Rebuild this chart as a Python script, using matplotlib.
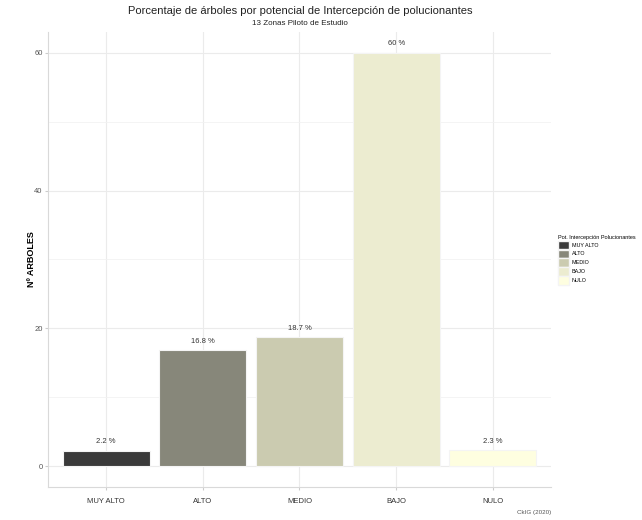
import numpy as np
import matplotlib.pyplot as plt
from matplotlib.patches import Patch

plt.rcParams['font.family'] = ['Liberation Sans', 'DejaVu Sans']

categorias = ['MUY ALTO', 'ALTO', 'MEDIO', 'BAJO', 'NULO']
porcentajes = [2.2, 16.8, 18.7, 60.0, 2.3]
etiquetas = ['2.2 %', '16.8 %', '18.7 %', '60 %', '2.3 %']
colores = ['#3a3a3a', '#87877a', '#cbcbb0', '#ececd0', '#fefee0']

fig = plt.figure(figsize=(6.42, 5.2), dpi=100)
ax = fig.add_axes([0.075, 0.064, 0.783, 0.874])

x = np.arange(1, len(categorias) + 1)
ax.bar(x, porcentajes, width=0.9, color=colores, edgecolor='#f4f4f4', linewidth=0.8, zorder=3)

for xi, v, t in zip(x, porcentajes, etiquetas):
    ax.annotate(t, (xi, v), xytext=(0, 4), textcoords='offset points',
                ha='center', va='bottom', fontsize=5.5, color='#333333', zorder=4)

ax.set_xlim(0.4, 5.6)
ax.set_ylim(-3, 63)
ax.set_xticks(x)
ax.set_xticklabels(categorias)
ax.set_yticks([0, 20, 40, 60])
ax.set_yticks([10, 30, 50], minor=True)

ax.grid(which='major', color='#ebebeb', linewidth=0.8, zorder=0)
ax.grid(which='minor', axis='y', color='#f2f2f2', linewidth=0.6, zorder=0)
ax.tick_params(axis='both', which='major', labelsize=5.5, length=2, color='#cccccc',
               labelcolor='#555555', pad=2)
ax.tick_params(axis='x', labelcolor='#333333', pad=6)
ax.tick_params(which='minor', length=0)

for s in ['top', 'right']:
    ax.spines[s].set_visible(False)
for s in ['left', 'bottom']:
    ax.spines[s].set_color('#d9d9d9')
    ax.spines[s].set_linewidth(0.8)

ax.set_ylabel('Nº ARBOLES', fontsize=6.5, fontweight='bold')
ax.yaxis.set_label_coords(-0.025, 0.5)

fig.text(0.467, 0.978, 'Porcentaje de árboles por potencial de Intercepción de polucionantes',
         ha='center', va='center', fontsize=8, color='#222222')
fig.text(0.467, 0.955, '13 Zonas Piloto de Estudio', ha='center', va='center',
         fontsize=5.8, color='#222222')
fig.text(0.858, 0.015, 'CkIG (2020)', ha='right', va='center', fontsize=4.5, color='#555555')

handles = [Patch(facecolor=c, edgecolor='#f4f4f4', label=cat) for c, cat in zip(colores, categorias)]
leg = fig.legend(handles=handles, title='Pot. Intercepción Polucionantes', loc='upper left',
                 bbox_to_anchor=(0.866, 0.552), frameon=False, fontsize=3.9,
                 title_fontsize=4, handlelength=2.0, handleheight=2.0,
                 labelspacing=0.1, handletextpad=0.5, borderaxespad=0)
leg._legend_box.align = 'left'

fig.savefig('out.png', dpi=100)
